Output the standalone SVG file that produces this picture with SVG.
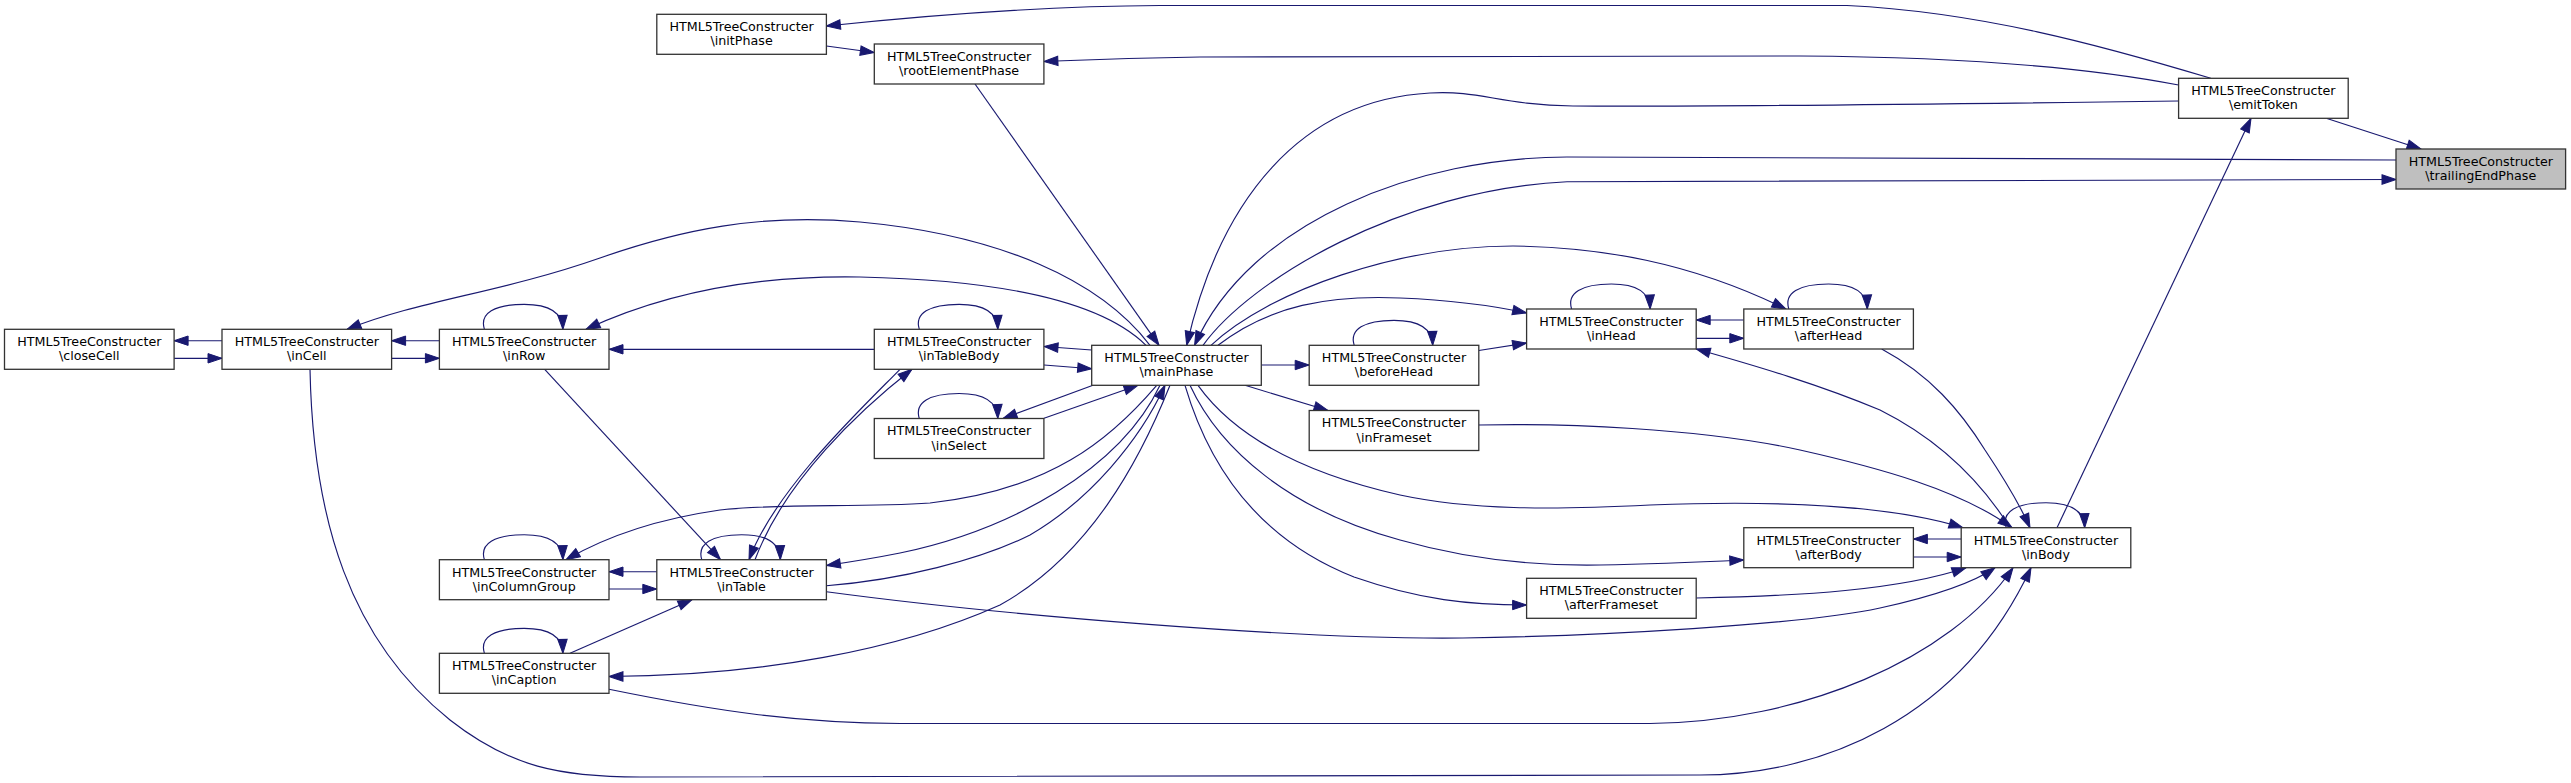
<svg xmlns="http://www.w3.org/2000/svg" width="2571" height="783" viewBox="0 0 2571 783">
<style>
.n rect{fill:#ffffff;stroke:#333333;stroke-width:1.3}
.n.root rect{fill:#bfbfbf}
.n text{font-family:"DejaVu Sans","Liberation Sans",sans-serif;font-size:12.7px;fill:#000000;text-anchor:middle}
#edges path{fill:none;stroke:#191970;stroke-width:1.15;marker-end:url(#arr)}
</style>
<defs>
<marker id="arr" markerUnits="userSpaceOnUse" markerWidth="16" markerHeight="12" viewBox="-1 -6 16 12" refX="14" refY="0" orient="auto">
<path d="M0,-4.7L14,0L0,4.7z" fill="#191970" stroke="#191970" stroke-width="1"/>
</marker>
</defs>
<rect x="0" y="0" width="2571" height="783" fill="#ffffff"/>
<g id="edges">
<!-- trailingEndPhase -->
<path d="M2327,118.5L2421,149"/>
<path d="M1203,345.3C1250,280 1400,190 1567,181.7L2396,179.5"/>
<path d="M2396,160C2000,158 1700,157 1567,157C1420,157 1250,220 1194.6,345.3"/>
<!-- emitToken -->
<path d="M2210.8,78.3C2100,45 1980,12 1847,5.5L1160,5.5C1060,6 940,14 826.4,26"/>
<path d="M2178.6,85C2080,66 1960,57 1800,56L1200,57C1120,58 1080,60 1043.9,61.5"/>
<path d="M2178.6,101C1950,104 1700,107 1573,106C1500,105 1480,90 1430,93C1300,100 1220,200 1186.7,345.3"/>
<path d="M2057,527.7L2251,118.3"/>
<!-- initPhase / rootElementPhase -->
<path d="M826.4,46L874.3,52.5"/>
<path d="M975,84L1159,345.3"/>
<!-- mainPhase up -->
<path d="M1211,345.3C1270,290 1400,246 1513,246C1600,247 1690,262 1786,309"/>
<path d="M1218,345.3C1270,305 1330,295 1400,298C1450,300 1490,305 1526.6,313"/>
<path d="M1150,345.3C1100,280 1000,235 860,222C760,213 680,230 600,258C500,293 420,300 347,329.3"/>
<path d="M1146,345.3C1100,300 1000,280 860,277C750,275 660,295 586,329.3"/>
<!-- mainPhase left -->
<path d="M1091.7,350L1044,346.5"/>
<path d="M1044,365L1091.7,368.7"/>
<path d="M1093,385.3L1003,418.5"/>
<path d="M1044,418.3L1138,385.3"/>
<path d="M1156.7,385.3C1110,440 1050,490 930,503C860,508 780,503 720,510C650,520 600,540 566,559.7"/>
<path d="M1160,385.3C1120,470 1010,530 900,553C870,559 850,562 826.4,565.5"/>
<path d="M826.4,585.7C900,580 980,560 1030,535C1090,500 1140,440 1165,385.3"/>
<path d="M1170,385.3C1140,460 1090,555 1000,605C900,650 760,676 609,676.5"/>
<!-- mainPhase right -->
<path d="M1261.3,365L1309.2,365"/>
<path d="M1245,385.3L1328,410.5"/>
<path d="M1198,385.3C1230,430 1290,470 1400,495C1470,510 1550,510 1650,505C1780,500 1890,505 1963,527.7"/>
<path d="M1190,385.3C1220,450 1290,510 1400,540C1470,560 1540,566 1600,565C1650,564 1700,562 1743.8,560"/>
<path d="M1185,385.3C1210,470 1260,540 1354,577C1420,600 1470,605 1526.6,605"/>
<!-- table cluster -->
<path d="M900,369.3C860,410 775,490 749,559.7"/>
<path d="M755,559.7C785,480 860,410 912,369.3"/>
<path d="M874.3,349.3L609,349.3"/>
<path d="M544.7,369.3L720.5,559.7"/>
<path d="M656.8,571.7L609,571.7"/>
<path d="M609,589L656.8,589"/>
<path d="M570,653.3L692,599.7"/>
<path d="M439.4,340.7L391.6,340.7"/>
<path d="M391.6,358.3L439.4,358.3"/>
<path d="M222,340.7L174.1,340.7"/>
<path d="M174.1,358.3L222,358.3"/>
<!-- into inBody -->
<path d="M609,689.3C720,712 800,723 900,723.5L1650,723.5C1800,722 1950,660 2013,567.7"/>
<path d="M826.4,591.7C1000,615 1300,640 1463,638C1600,636 1800,625 1880,608C1930,597 1970,585 1995,567.7"/>
<path d="M1696.2,598C1800,596 1900,590 1966,567.7"/>
<path d="M310,369.3C313,520 350,640 450,720C510,767 560,777 640,777L1700,775C1820,775 1960,720 2031,567.7"/>
<path d="M1478.8,425C1560,423 1700,428 1800,450C1880,468 1960,490 2012,527.7"/>
<path d="M1881.7,349C1930,375 1960,410 1985,450C2005,480 2020,505 2030,527.7"/>
<path d="M2010,527.7C1980,480 1940,440 1880,410C1820,385 1760,367 1696.2,349"/>
<path d="M1961.2,539L1913.4,539"/>
<path d="M1913.4,557L1961.2,557"/>
<!-- head cluster -->
<path d="M1478.8,350.5L1526.6,343"/>
<path d="M1743.8,320L1696.2,320"/>
<path d="M1696.2,338.3L1743.8,338.3"/>
<!-- self loops -->
<path d="M484.4,329.3C479.4,313.3 494.4,304.3 524.2,304.3C549.4,304.3 562.4,312.3 562.9,329.3"/>
<path d="M919.3,329.3C914.3,313.3 929.3,304.3 959.1,304.3C984.3,304.3 997.3,312.3 997.8,329.3"/>
<path d="M919.3,418.5C914.3,402.5 929.3,393.5 959.1,393.5C984.3,393.5 997.3,401.5 997.8,418.5"/>
<path d="M484.4,559.7C479.4,543.7 494.4,534.7 524.2,534.7C549.4,534.7 562.4,542.7 562.9,559.7"/>
<path d="M484.4,653.3C479.4,637.3 494.4,628.3 524.2,628.3C549.4,628.3 562.4,636.3 562.9,653.3"/>
<path d="M701.8,559.7C696.8,543.7 711.8,534.7 741.6,534.7C766.8,534.7 779.8,542.7 780.3,559.7"/>
<path d="M1354.2,345.3C1349.2,329.3 1364.2,320.3 1394,320.3C1419.2,320.3 1432.2,328.3 1432.7,345.3"/>
<path d="M1571.6,309C1566.6,293 1581.6,284 1611.4,284C1636.6,284 1649.6,292 1650.1,309"/>
<path d="M1788.8,309C1783.8,293 1798.8,284 1828.6,284C1853.8,284 1866.8,292 1867.3,309"/>
<path d="M2006.2,527.7C2001.2,511.7 2016.2,502.7 2046,502.7C2071.2,502.7 2084.2,510.7 2084.7,527.7"/>
</g>
<g id="closeCell" class="n"><rect x="4.5" y="329.3" width="169.6" height="40"/><text x="89.3" y="346.1">HTML5TreeConstructer</text><text x="89.3" y="360.3">\closeCell</text></g>
<g id="inCell" class="n"><rect x="222" y="329.3" width="169.6" height="40"/><text x="306.8" y="346.1">HTML5TreeConstructer</text><text x="306.8" y="360.3">\inCell</text></g>
<g id="inRow" class="n"><rect x="439.4" y="329.3" width="169.6" height="40"/><text x="524.2" y="346.1">HTML5TreeConstructer</text><text x="524.2" y="360.3">\inRow</text></g>
<g id="inColumnGroup" class="n"><rect x="439.4" y="559.7" width="169.6" height="40"/><text x="524.2" y="576.5">HTML5TreeConstructer</text><text x="524.2" y="590.7">\inColumnGroup</text></g>
<g id="inCaption" class="n"><rect x="439.4" y="653.3" width="169.6" height="40"/><text x="524.2" y="670.1">HTML5TreeConstructer</text><text x="524.2" y="684.3">\inCaption</text></g>
<g id="initPhase" class="n"><rect x="656.8" y="14.3" width="169.6" height="40"/><text x="741.6" y="31.1">HTML5TreeConstructer</text><text x="741.6" y="45.3">\initPhase</text></g>
<g id="inTable" class="n"><rect x="656.8" y="559.7" width="169.6" height="40"/><text x="741.6" y="576.5">HTML5TreeConstructer</text><text x="741.6" y="590.7">\inTable</text></g>
<g id="rootElementPhase" class="n"><rect x="874.3" y="44" width="169.6" height="40"/><text x="959.1" y="60.8">HTML5TreeConstructer</text><text x="959.1" y="75">\rootElementPhase</text></g>
<g id="inTableBody" class="n"><rect x="874.3" y="329.3" width="169.6" height="40"/><text x="959.1" y="346.1">HTML5TreeConstructer</text><text x="959.1" y="360.3">\inTableBody</text></g>
<g id="inSelect" class="n"><rect x="874.3" y="418.5" width="169.6" height="40"/><text x="959.1" y="435.3">HTML5TreeConstructer</text><text x="959.1" y="449.5">\inSelect</text></g>
<g id="mainPhase" class="n"><rect x="1091.7" y="345.3" width="169.6" height="40"/><text x="1176.5" y="362.1">HTML5TreeConstructer</text><text x="1176.5" y="376.3">\mainPhase</text></g>
<g id="beforeHead" class="n"><rect x="1309.2" y="345.3" width="169.6" height="40"/><text x="1394" y="362.1">HTML5TreeConstructer</text><text x="1394" y="376.3">\beforeHead</text></g>
<g id="inFrameset" class="n"><rect x="1309.2" y="410.5" width="169.6" height="40"/><text x="1394" y="427.3">HTML5TreeConstructer</text><text x="1394" y="441.5">\inFrameset</text></g>
<g id="inHead" class="n"><rect x="1526.6" y="309" width="169.6" height="40"/><text x="1611.4" y="325.8">HTML5TreeConstructer</text><text x="1611.4" y="340">\inHead</text></g>
<g id="afterFrameset" class="n"><rect x="1526.6" y="578.3" width="169.6" height="40"/><text x="1611.4" y="595.1">HTML5TreeConstructer</text><text x="1611.4" y="609.3">\afterFrameset</text></g>
<g id="afterHead" class="n"><rect x="1743.8" y="309" width="169.6" height="40"/><text x="1828.6" y="325.8">HTML5TreeConstructer</text><text x="1828.6" y="340">\afterHead</text></g>
<g id="afterBody" class="n"><rect x="1743.8" y="527.7" width="169.6" height="40"/><text x="1828.6" y="544.5">HTML5TreeConstructer</text><text x="1828.6" y="558.7">\afterBody</text></g>
<g id="inBody" class="n"><rect x="1961.2" y="527.7" width="169.6" height="40"/><text x="2046" y="544.5">HTML5TreeConstructer</text><text x="2046" y="558.7">\inBody</text></g>
<g id="emitToken" class="n"><rect x="2178.6" y="78.3" width="169.6" height="40"/><text x="2263.4" y="95.1">HTML5TreeConstructer</text><text x="2263.4" y="109.3">\emitToken</text></g>
<g id="trailingEndPhase" class="n root"><rect x="2396" y="149" width="169.6" height="40"/><text x="2480.8" y="165.8">HTML5TreeConstructer</text><text x="2480.8" y="180">\trailingEndPhase</text></g>
</svg>
